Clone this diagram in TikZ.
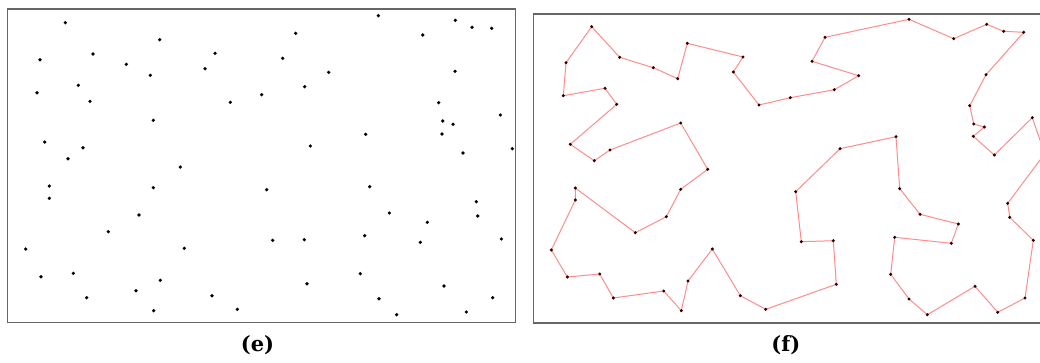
\documentclass[tikz,border=0pt]{standalone}
\usepackage{fontspec}
\setmainfont{DejaVu Serif}
\usetikzlibrary{positioning}

\begin{document}
\begin{tikzpicture}[
    x=1pt, y=-1pt,
    frame/.style ={draw=black!60, line width=1.3pt},
    city/.style  ={fill=black, draw=none},
    tour/.style  ={draw=red!45!white, line width=1pt, line join=round},
    caption/.style={font=\bfseries\fontsize{21}{24}\selectfont, inner sep=0pt},
]
\useasboundingbox (0,0) rectangle (1040,362);

% ── Panel (e): scattered cities ──────────────────────────────
\draw[frame] (7.5,9) rectangle (515.5,322.5);
\foreach \x/\y in {65.3/22.7, 159.7/39.7, 40/59.7, 93/54, 126.3/64.3, 150.3/75.3,
    215/53.3, 205/68.7, 37/92.7, 78.3/85.3, 90/101.3, 230.3/102.3, 261.7/94.7,
    153.3/120.3, 44.7/142, 83/147.7, 68/158.7, 180.3/167,
    378.3/15.7, 295.7/33.3, 455.3/20.3, 472/27.3, 491.7/28.3, 422.7/35,
    282.7/58.3, 328.7/72.3, 455/71.3, 304.7/86.7, 438.7/102.7, 500.3/115,
    442.7/121, 453/124.3, 365.7/134.3, 442/134, 310.3/146, 512.3/148.7, 463/153,
    49.3/186, 49.3/198.3, 153.3/187.7, 266.7/189.7, 139/215, 108.3/231.7,
    25.7/249, 184.3/248.3, 41/276.7, 73.3/273.3, 160.3/280.3, 136/290.7,
    86.7/297.7, 212/295.7, 153.7/310.7, 237.3/309.3,
    369.7/186.7, 389.3/213, 476.3/201.7, 477.7/216, 427.3/222.3, 272.7/240.3,
    304.3/239.7, 364.7/235.7, 420.3/242.3, 501.3/239, 307/283.7, 360.3/273.7,
    444/286, 379/298.7, 492.7/297.7, 396.7/314.7, 466.3/312}
  \fill[city] (\x,\y) circle (1.8pt);

\node[caption] (capE) at (257.5,345) {(e)};

% ── Panel (f): tour through the cities ───────────────────────
\begin{scope}
\clip (0,0) rectangle (1040,362);
\draw[frame] (533.3,14) rectangle (1052,323);

% tour stops, in visiting order
\foreach \x/\y [count=\i] in {591.7/26.7, 566/62.7, 563.3/95.7, 605/88.3,
    616.7/104.3, 570.3/144.3, 594.3/160.7, 610/150, 680.7/123, 707.7/169.3,
    680.7/189.3, 666.3/216.7, 635.3/232.7, 575.3/188, 575.3/200, 551.3/250,
    567.3/277, 599.7/274, 613.3/298, 663.7/291, 681.3/310.7, 688/281,
    712.3/249, 740.3/295.7, 765.7/309.3, 836.3/284.3, 833.3/240.7,
    801.3/241.7, 795.7/191.7, 840/148.7, 896/136.7, 899.7/188.7, 920/214.3,
    958.3/224, 951.3/243.3, 894.7/237.3, 890.7/274.3, 909/299, 927.3/314.7,
    975/286.3, 997.7/312.3, 1025/298, 1033.3/240.3, 1009.7/217.3,
    1007.7/203.3, 1044.7/153.7, 1032.3/117.7, 994.3/155, 973.3/136.3,
    984.3/127, 973.7/124, 969.7/105.7, 986/74.7, 1023.7/32.3, 1003.7/31.3,
    986.7/24.3, 953.7/38.7, 909/19.3, 825/37.3, 812/61.3, 858.7/75.7,
    834.3/89.7, 790.3/97.7, 759/105, 733.3/72, 743/57, 687.3/43.3,
    677.7/78.7, 653.3/67.7, 619.7/57.3}
  \coordinate (t\i) at (\x,\y);

\draw[tour] (t1) \foreach \i in {2,...,70} { -- (t\i) } -- cycle;
\foreach \i in {1,...,70}
  \fill[city, fill=black!80!red] (t\i) circle (1.7pt);
\end{scope}

\node[caption] (capF) at (785.8,345) {(f)};

\end{tikzpicture}
\end{document}
